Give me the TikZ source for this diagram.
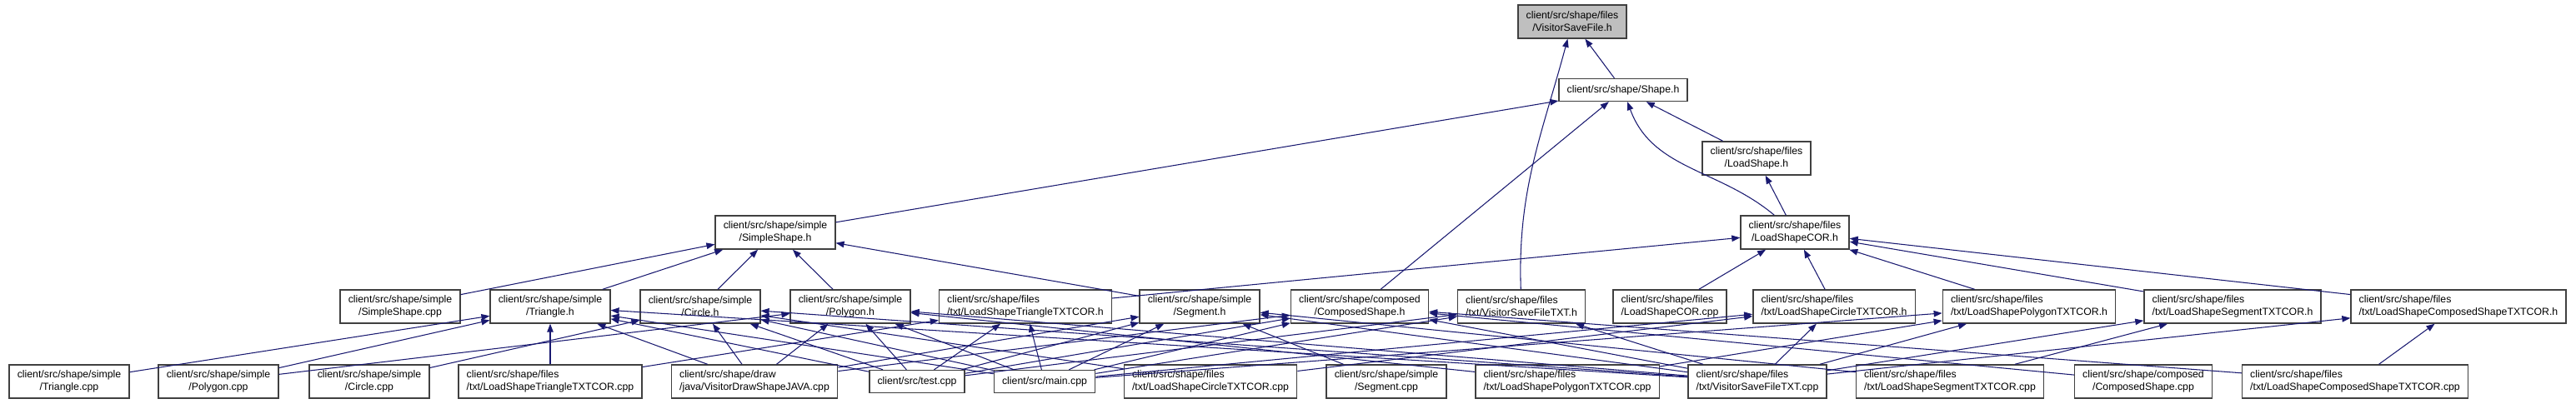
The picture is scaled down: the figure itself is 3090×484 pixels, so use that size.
\documentclass[tikz,border=0pt]{standalone}
\usepackage{fontspec}
\setmainfont{Liberation Sans}
\usetikzlibrary{arrows.meta}
\definecolor{dgedge}{HTML}{191970}
\definecolor{dgfill}{HTML}{BFBFBF}
\definecolor{dgline}{HTML}{404040}
\tikzset{
  file/.style={rectangle,draw=dgline,line width=0.8pt,fill=white,
               minimum height=8mm,inner xsep=5.5pt,inner ysep=1pt,
               align=center,font=\fontsize{7}{8.5}\selectfont,text=black},
  fileleft/.style={file,align=left},
  fileone/.style={file,minimum height=5.4mm},
  focus/.style={file,fill=dgfill},
  dep/.style={-{Triangle[length=2mm,width=1.5mm]},line width=0.6pt,draw=dgedge},
}

\begin{document}
\begin{tikzpicture}[x=0.2mm,y=-0.2mm]
  \useasboundingbox (0,0) rectangle (3090,484);
  \node[focus] (vsfh) at (1886,26) {client/src/shape/files\\/VisitorSaveFile.h};
  \node[fileone] (shapeh) at (1947,108) {client/src/shape/Shape.h};
  \node[file] (loadh) at (2107,190) {client/src/shape/files\\/LoadShape.h};
  \node[file] (simpleh) at (930,279) {client/src/shape/simple\\/SimpleShape.h};
  \node[file] (corh) at (2153,279) {client/src/shape/files\\/LoadShapeCOR.h};

  \node[file] (simplecpp) at (480,368) {client/src/shape/simple\\/SimpleShape.cpp};
  \node[file] (triangleh) at (660,368) {client/src/shape/simple\\/Triangle.h};
  \node[file] (circleh) at (840,368) {client/src/shape/simple\\/Circle.h};
  \node[file] (polygonh) at (1020,368) {client/src/shape/simple\\/Polygon.h};
  \node[fileleft] (ltrih) at (1230,368) {client/src/shape/files\\/txt/LoadShapeTriangleTXTCOR.h};
  \node[file] (segmenth) at (1439,368) {client/src/shape/simple\\/Segment.h};
  \node[file] (composedh) at (1631,368) {client/src/shape/composed\\/ComposedShape.h};
  \node[fileleft] (vsftxth) at (1825,368) {client/src/shape/files\\/txt/VisitorSaveFileTXT.h};
  \node[fileleft] (corcpp) at (2003,368) {client/src/shape/files\\/LoadShapeCOR.cpp};
  \node[fileleft] (lcirh) at (2200,368) {client/src/shape/files\\/txt/LoadShapeCircleTXTCOR.h};
  \node[fileleft] (lpolh) at (2434,368) {client/src/shape/files\\/txt/LoadShapePolygonTXTCOR.h};
  \node[fileleft] (lsegh) at (2678,368) {client/src/shape/files\\/txt/LoadShapeSegmentTXTCOR.h};
  \node[fileleft] (lcomh) at (2949,368) {client/src/shape/files\\/txt/LoadShapeComposedShapeTXTCOR.h};

  \node[file] (trianglecpp) at (83,458) {client/src/shape/simple\\/Triangle.cpp};
  \node[file] (polygoncpp) at (262,458) {client/src/shape/simple\\/Polygon.cpp};
  \node[file] (circlecpp) at (443,458) {client/src/shape/simple\\/Circle.cpp};
  \node[fileleft] (ltricpp) at (660,458) {client/src/shape/files\\/txt/LoadShapeTriangleTXTCOR.cpp};
  \node[fileleft] (javacpp) at (905,458) {client/src/shape/draw\\/java/VisitorDrawShapeJAVA.cpp};
  \node[fileone] (testcpp) at (1100,458) {client/src/test.cpp};
  \node[fileone] (maincpp) at (1253,458) {client/src/main.cpp};
  \node[fileleft] (lcircpp) at (1452,458) {client/src/shape/files\\/txt/LoadShapeCircleTXTCOR.cpp};
  \node[file] (segmentcpp) at (1663,458) {client/src/shape/simple\\/Segment.cpp};
  \node[fileleft] (lpolcpp) at (1880,458) {client/src/shape/files\\/txt/LoadShapePolygonTXTCOR.cpp};
  \node[fileleft] (vsftxtcpp) at (2108,458) {client/src/shape/files\\/txt/VisitorSaveFileTXT.cpp};
  \node[fileleft] (lsegcpp) at (2339,458) {client/src/shape/files\\/txt/LoadShapeSegmentTXTCOR.cpp};
  \node[file] (composedcpp) at (2571,458) {client/src/shape/composed\\/ComposedShape.cpp};
  \node[fileleft] (lcomcpp) at (2825,458) {client/src/shape/files\\/txt/LoadShapeComposedShapeTXTCOR.cpp};

  \draw[dep] (shapeh) -- (vsfh);
  \draw[dep] (vsftxth) to[out=92,in=-105] (vsfh);
  \draw[dep] (simpleh) -- (shapeh);
  \draw[dep] (composedh) -- (shapeh);
  \draw[dep] (corh) to[out=140,in=-70] (shapeh);
  \draw[dep] (loadh) -- (shapeh);
  \draw[dep] (corh) -- (loadh);

  \draw[dep] (simplecpp) -- (simpleh);
  \draw[dep] (triangleh) -- (simpleh);
  \draw[dep] (circleh) -- (simpleh);
  \draw[dep] (polygonh) -- (simpleh);
  \draw[dep] (segmenth) -- (simpleh);
  \draw[dep] (ltrih) -- (corh);
  \draw[dep] (corcpp) -- (corh);
  \draw[dep] (lcirh) -- (corh);
  \draw[dep] (lpolh) -- (corh);
  \draw[dep] (lsegh) -- (corh);
  \draw[dep] (lcomh) -- (corh);

  \draw[dep] (trianglecpp) -- (triangleh);
  \draw[dep] (polygoncpp) -- (triangleh);
  \draw[dep] (polygoncpp) -- (polygonh);
  \draw[dep] (circlecpp) -- (circleh);
  \draw[dep] (ltricpp) -- (triangleh);
  \draw[dep] (ltricpp) -- (ltrih);
  \draw[dep] (javacpp) -- (triangleh);
  \draw[dep] (javacpp) -- (circleh);
  \draw[dep] (javacpp) -- (polygonh);
  \draw[dep] (javacpp) -- (segmenth);
  \draw[dep] (javacpp) -- (composedh);
  \draw[dep] (testcpp) -- (triangleh);
  \draw[dep] (testcpp) -- (circleh);
  \draw[dep] (testcpp) -- (polygonh);
  \draw[dep] (testcpp) -- (ltrih);
  \draw[dep] (testcpp) -- (segmenth);
  \draw[dep] (testcpp) -- (composedh);
  \draw[dep] (testcpp) -- (vsftxth);
  \draw[dep] (maincpp) -- (triangleh);
  \draw[dep] (maincpp) -- (circleh);
  \draw[dep] (maincpp) -- (polygonh);
  \draw[dep] (maincpp) -- (ltrih);
  \draw[dep] (maincpp) -- (segmenth);
  \draw[dep] (maincpp) -- (composedh);
  \draw[dep] (maincpp) -- (vsftxth);
  \draw[dep] (maincpp) -- (lcirh);
  \draw[dep] (maincpp) -- (lpolh);
  \draw[dep] (lcircpp) -- (circleh);
  \draw[dep] (lcircpp) -- (lcirh);
  \draw[dep] (segmentcpp) -- (segmenth);
  \draw[dep] (lpolcpp) -- (polygonh);
  \draw[dep] (lpolcpp) -- (lpolh);
  \draw[dep] (vsftxtcpp) -- (triangleh);
  \draw[dep] (vsftxtcpp) -- (circleh);
  \draw[dep] (vsftxtcpp) -- (polygonh);
  \draw[dep] (vsftxtcpp) -- (segmenth);
  \draw[dep] (vsftxtcpp) -- (composedh);
  \draw[dep] (vsftxtcpp) -- (vsftxth);
  \draw[dep] (vsftxtcpp) -- (lcirh);
  \draw[dep] (vsftxtcpp) -- (lpolh);
  \draw[dep] (vsftxtcpp) -- (lsegh);
  \draw[dep] (vsftxtcpp) -- (lcomh);
  \draw[dep] (lsegcpp) -- (segmenth);
  \draw[dep] (lsegcpp) -- (lsegh);
  \draw[dep] (composedcpp) -- (composedh);
  \draw[dep] (lcomcpp) -- (composedh);
  \draw[dep] (lcomcpp) -- (lcomh);
\end{tikzpicture}
\end{document}
